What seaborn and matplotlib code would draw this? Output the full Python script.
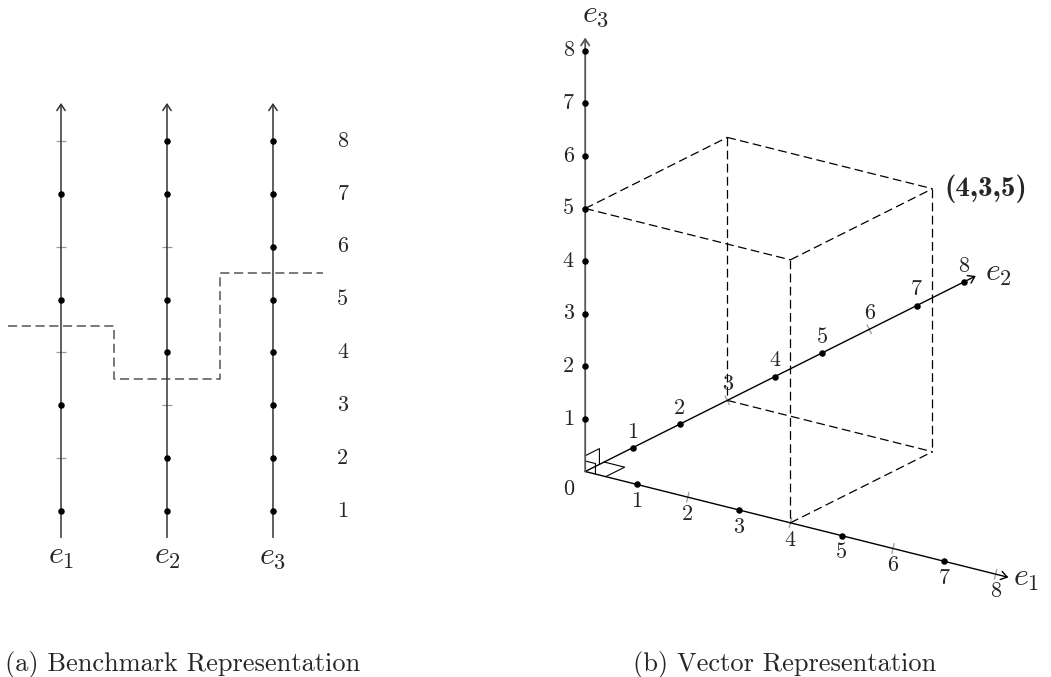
import numpy as np
import pandas as pd
import matplotlib
matplotlib.use("Agg")
import matplotlib.pyplot as plt
import seaborn as sns

# ---------------- data ----------------
dim_names = [r"$e_1$", r"$e_2$", r"$e_3$"]
levels = [1, 2, 3, 4, 5, 6, 7, 8]
# levels that carry a filled point on each dimension (others only get a tick)
marked_e1 = [1, 3, 5, 7]
marked_e2 = [1, 2, 4, 5, 7, 8]
marked_e3 = [1, 2, 3, 4, 5, 6, 7, 8]
vector = [4, 3, 5]
vector_label = "(4,3,5)"
captions = ["(a) Benchmark Representation", "(b) Vector Representation"]

marked = [marked_e1, marked_e2, marked_e3]

# ---------------- style ----------------
sns.set_theme(style="white")
plt.rcParams["font.family"] = ["cmr10", "DejaVu Sans"]
plt.rcParams["mathtext.fontset"] = "cm"
plt.rcParams["axes.formatter.use_mathtext"] = True

W, H = 1051, 677
fig = plt.figure(figsize=(W / 100, H / 100), dpi=100)

AXIS_C = "#333333"
TICK_C = "#9a9a9a"
NUM_FS = 16
NAME_FS = 23
DOT_S = 22


def px_axes(x0, y0, x1, y1):
    ax = fig.add_axes([x0 / W, 1 - y1 / H, (x1 - x0) / W, (y1 - y0) / H])
    ax.set_axis_off()
    return ax


def arrow(ax, start, end, color, lw):
    ax.annotate("", xy=end, xytext=start,
                arrowprops=dict(arrowstyle="->,head_length=0.45,head_width=0.3",
                                color=color, lw=lw, shrinkA=0, shrinkB=0,
                                mutation_scale=10))


# ================= (a) benchmark representation =================
ax1 = px_axes(0, 85, 360, 600)

for i, name in enumerate(dim_names):
    pos = i + 1
    arrow(ax1, (pos, 0.5), (pos, 8.72), AXIS_C, 1.1)
    for lv in levels:
        if lv not in marked[i]:
            ax1.plot([pos - 0.05, pos + 0.05], [lv, lv], color=TICK_C, lw=0.9,
                     solid_capstyle="butt")
    ax1.text(pos, 0.12, name, ha="center", va="center", fontsize=NAME_FS)

pts_a = pd.DataFrame([(i + 1, lv) for i in range(3) for lv in marked[i]],
                     columns=["pos", "level"])
sns.scatterplot(data=pts_a, x="pos", y="level", color="black", s=DOT_S,
                linewidth=0, ax=ax1, legend=False, zorder=5)

for lv in levels:
    ax1.text(3.66, lv, str(lv), ha="center", va="center", fontsize=NUM_FS)

# dashed cut through the three dimensions at the vector's values
step_x, step_y = [], []
for i, v in enumerate(vector):
    step_x += [i + 0.5, i + 1.5]
    step_y += [v + 0.5, v + 0.5]
step_x[-1] = 3.47
sns.lineplot(x=step_x, y=step_y, sort=False, estimator=None, ax=ax1,
             color="#555555", lw=1.1, linestyle=(0, (6, 3)), legend=False)
ax1.set_xlim(0.4245, 3.821)
ax1.set_ylim(-0.684, 9.059)
ax1.set_axis_off()

# ================= (b) vector representation =================
ax2 = px_axes(540, 0, 1051, 600)

# oblique projection of the three unit directions
E = np.array([[51.3, -12.83],
              [47.35, 23.7],
              [0.0, 52.6]])


def proj(p):
    return np.asarray(p, dtype=float) @ E


O = proj([0, 0, 0])
unit = np.eye(3)
axis_colors = ["black", "black", "#555555"]
axis_lw = [1.0, 1.0, 1.3]
for i in range(3):
    arrow(ax2, tuple(O), tuple(proj(unit[i] * 8.25)), axis_colors[i], axis_lw[i])

# ticks on unmarked levels, perpendicular to each axis on screen
for i in range(3):
    d = E[i] / np.linalg.norm(E[i])
    nrm = np.array([-d[1], d[0]])
    for lv in levels:
        if lv not in marked[i]:
            c = proj(unit[i] * lv)
            a, b = c - 5 * nrm, c + 5 * nrm
            ax2.plot([a[0], b[0]], [a[1], b[1]], color=TICK_C, lw=0.9)

pts_b = []
for i in range(3):
    for lv in marked[i]:
        x, y = proj(unit[i] * lv)
        pts_b.append((x, y))
pts_b = pd.DataFrame(pts_b, columns=["sx", "sy"])
sns.scatterplot(data=pts_b, x="sx", y="sy", color="black", s=DOT_S, linewidth=0,
                ax=ax2, legend=False, zorder=5)

label_off = [np.array([0, -17]), np.array([0, 16]), np.array([-17, 0])]
for i in range(3):
    for lv in levels:
        x, y = proj(unit[i] * lv) + label_off[i]
        ax2.text(x, y, str(lv), ha="center", va="center", fontsize=NUM_FS)
ax2.text(O[0] - 17, O[1] - 18, "0", ha="center", va="center", fontsize=NUM_FS)

# axis names
t1 = proj(unit[0] * 8.25)
ax2.text(t1[0] + 5, t1[1] - 2, dim_names[0], ha="left", va="center", fontsize=NAME_FS)
t2 = proj(unit[1] * 8.25)
ax2.text(t2[0] + 9, t2[1] + 2, dim_names[1], ha="left", va="center", fontsize=NAME_FS)
t3 = proj(unit[2] * 8.25)
ax2.text(t3[0] + 10, t3[1] + 22, dim_names[2], ha="center", va="center", fontsize=NAME_FS)

# dashed box spanned by the vector
vx, vy, vz = vector
edges = [
    ((0, 0, vz), (vx, 0, vz)), ((0, 0, vz), (0, vy, vz)),
    ((vx, 0, vz), (vx, vy, vz)), ((0, vy, vz), (vx, vy, vz)),
    ((0, vy, vz), (0, vy, 0)), ((vx, 0, vz), (vx, 0, 0)),
    ((vx, vy, vz), (vx, vy, 0)),
    ((0, vy, 0), (vx, vy, 0)), ((vx, 0, 0), (vx, vy, 0)),
]
for a, b in edges:
    pa, pb = proj(a), proj(b)
    ax2.plot([pa[0], pb[0]], [pa[1], pb[1]], color="black", lw=0.9,
             linestyle=(0, (7, 3.5)))

corner = proj(vector)
ax2.text(corner[0] + 12, corner[1], vector_label, ha="left", va="center",
         fontsize=21, family="cmb10")

# right-angle marks at the origin
for (i, j, s) in [(1, 2, 0.3), (0, 1, 0.4), (0, 2, 0.2)]:
    p = [proj(unit[j] * s), proj(unit[i] * s + unit[j] * s), proj(unit[i] * s)]
    ax2.plot([q[0] for q in p], [q[1] for q in p], color="black", lw=0.8)

ax2.set_xlim(-45.2, 465.8)
ax2.set_ylim(-128.5, 471.5)
ax2.set_axis_off()

# captions
fig.text(5 / W, 1 - 665 / H, captions[0], ha="left", va="center", fontsize=19)
fig.text(633 / W, 1 - 665 / H, captions[1], ha="left", va="center", fontsize=19)

fig.savefig("out.png", dpi=100)
